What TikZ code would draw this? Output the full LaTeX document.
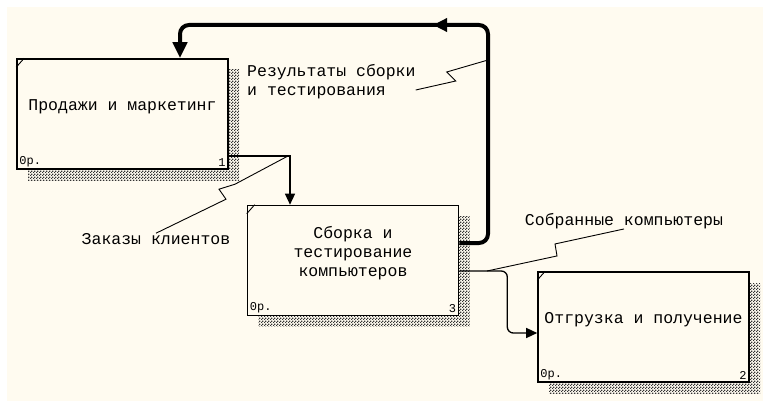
\documentclass[tikz,border=0pt]{standalone}
\usepackage{fontspec}
\newfontfamily\idefmono{Liberation Mono}
\usetikzlibrary{arrows.meta,shadows,patterns,decorations.markings}
\definecolor{idefpaper}{HTML}{FFFBF0}
\definecolor{idefink}{HTML}{000000}
\pgfdeclarepatternformonly{idefcheck}{\pgfpointorigin}{\pgfpoint{3pt}{3pt}}{\pgfpoint{3pt}{3pt}}{
  \pgfpathrectangle{\pgfpointorigin}{\pgfpoint{1.5pt}{1.5pt}}
  \pgfpathrectangle{\pgfpoint{1.5pt}{1.5pt}}{\pgfpoint{1.5pt}{1.5pt}}
  \pgfusepath{fill}}

\begin{document}
\begin{tikzpicture}[
    x=1pt,y=-1pt,
    activity/.style={rectangle,draw=idefink,line width=1.6pt,fill=idefpaper,
      minimum width=211pt,minimum height=110pt,inner sep=2pt,align=center,
      text depth=18pt,font=\idefmono\fontsize{16.5}{19}\selectfont,
      general shadow={shadow xshift=11pt,shadow yshift=-11pt,
        pattern=idefcheck,pattern color=idefink!80}},
    corner/.style={inner sep=3pt,font=\idefmono\fontsize{12}{13}\selectfont},
    note/.style={align=left,inner sep=0pt,font=\idefmono\fontsize{16.5}{19}\selectfont},
    flow/.style={-{Triangle[length=11pt,width=10pt]},line width=1.3pt},
    feedback/.style={-{Triangle[length=16pt,width=14pt]},line width=4pt,
      rounded corners=9pt,
      decoration={markings,mark=at position 0.51 with {\arrow{Triangle[length=14pt,width=13pt]}}},
      postaction={decorate}},
    squiggle/.style={line width=.9pt}
  ]
  \useasboundingbox (0,0) rectangle (763,401);
  \fill[idefpaper] (7,7) rectangle (763,401);

  \node[activity] (sales) at (122.5,114) {Продажи и маркетинг};
  \node[activity] (assembly) at (353,260.5) {Сборка и\\тестирование\\компьютеров};
  \node[activity] (shipping) at (643.5,327) {Отгрузка и получение};

  \foreach \b/\n in {sales/1,assembly/3,shipping/2}{
    \node[corner,anchor=south west] (\b-cost) at (\b.south west) {0р.};
    \node[corner,anchor=south east] (\b-num) at (\b.south east) {\n};
    \draw[line width=.9pt] ([xshift=8pt]\b.north west) -- ([yshift=-9pt]\b.north west);
  }

  \node[note,anchor=west] (results) at (247,82) {Результаты сборки\\и тестирования};
  \node[note] (orders) at (156,239) {Заказы клиентов};
  \node[note] (built) at (624,221) {Собранные компьютеры};

  \coordinate (fbR) at (488,25);
  \coordinate (fbL) at (180,25);
  \coordinate (fbhook) at (488,60);
  \coordinate (ordhook) at (288,156);
  \coordinate (builthook) at (487,271);

  \draw[feedback] ([yshift=17.5pt]assembly.east) -| (fbR) -- (fbL) -- ([xshift=57.5pt]sales.north);
  \draw[flow] ([yshift=-42pt]sales.east) -| ([xshift=-63pt]assembly.north);
  \draw[flow,rounded corners=6pt] ([yshift=-10.5pt]assembly.east) -- ++(48,0) |- ([yshift=-6pt]shipping.west);

  \draw[squiggle] ([yshift=-8pt]results.east) -- ++(40,-9) -- ++(-9,-9) -- (fbhook);
  \draw[squiggle] (orders.north) -- ++(70,-34) -- ++(-7,-10) -- ++(16,-5) -- (ordhook);
  \draw[squiggle] (built.south) -- ++(-69,15) -- ++(2,12) -- (builthook);
\end{tikzpicture}
\end{document}
